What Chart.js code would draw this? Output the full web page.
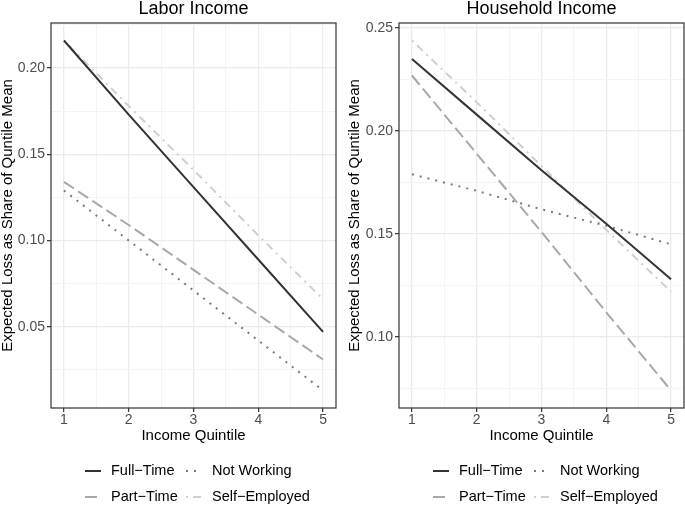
<!DOCTYPE html>
<html>
<head>
<meta charset="utf-8">
<script src="https://cdn.jsdelivr.net/npm/chart.js@4.4.1/dist/chart.umd.min.js"></script>
<style>
  body { margin: 0; background: #fff; }
  #wrap { position: relative; width: 685px; height: 505px; }
  canvas { position: absolute; top: 0; }
</style>
</head>
<body>
<div id="wrap">
  <canvas id="labor" width="342" height="505" style="left:0"></canvas>
  <canvas id="household" width="343" height="505" style="left:342px"></canvas>
</div>
<script>
// Data
const quintiles = [1, 2, 3, 4, 5]
const seriesNames = ['Full\u2212Time', 'Part\u2212Time', 'Not Working', 'Self\u2212Employed']

const laborFullTime     = [0.216, 0.173, 0.131, 0.089, 0.047]
const laborPartTime     = [0.134, 0.109, 0.083, 0.057, 0.031]
const laborNotWorking   = [0.129, 0.100, 0.071, 0.042, 0.013]
const laborSelfEmployed = [0.216, 0.178, 0.141, 0.103, 0.066]

const householdFullTime     = [0.235, 0.208, 0.181, 0.155, 0.128]
const householdPartTime     = [0.227, 0.189, 0.151, 0.112, 0.074]
const householdNotWorking   = [0.179, 0.171, 0.162, 0.154, 0.145]
const householdSelfEmployed = [0.244, 0.214, 0.183, 0.152, 0.122]

const laborYTicks = [0.05, 0.10, 0.15, 0.20]
const householdYTicks = [0.10, 0.15, 0.20, 0.25]

// Styles
const lineColors = ['#333333', '#a8a8a8', '#7a7a7a', '#cfcfcf']
const lineDashes = [[], [12, 5], [2, 6], [2, 5, 8, 5]]
const FONT = "'Liberation Sans', Arial, sans-serif"

// ggplot-like 5% expansion of the data range
function expand(lo, hi) {
  const pad = (hi - lo) * 0.05
  return [lo - pad, hi + pad]
}

// major ticks plus minor ones halfway between (and just outside if still in range)
function withMinor(majors, lo, hi) {
  const step = majors[1] - majors[0]
  const out = [majors[0] - step / 2]
  majors.forEach((m, i) => {
    out.push(m)
    out.push(m + step / 2)
  })
  return out.filter(v => v >= lo && v <= hi)
}

function isMajor(v, majors) {
  return majors.some(m => Math.abs(m - v) < 1e-9)
}

const panelPlugin = {
  id: 'panelDecor',
  afterDraw(chart) {
    const { ctx, chartArea } = chart
    const opts = chart.options.plugins.panelDecor
    ctx.save()
    // panel border
    ctx.strokeStyle = '#333333'
    ctx.lineWidth = 1.2
    ctx.strokeRect(chartArea.left, chartArea.top, chartArea.right - chartArea.left, chartArea.bottom - chartArea.top)
    // title
    ctx.fillStyle = '#000'
    ctx.font = '18px ' + FONT
    ctx.textAlign = 'center'
    ctx.textBaseline = 'alphabetic'
    ctx.fillText(opts.title, (chartArea.left + chartArea.right) / 2, 14)
    // legend, filled by column
    ctx.font = '14.5px ' + FONT
    ctx.textAlign = 'left'
    ctx.textBaseline = 'middle'
    const cols = [chartArea.left + 34, chartArea.left + 135]
    const rows = [471, 497]
    chart.data.datasets.forEach((ds, i) => {
      const x = cols[Math.floor(i / 2)]
      const y = rows[i % 2]
      ctx.strokeStyle = ds.borderColor
      ctx.lineWidth = ds.borderWidth
      ctx.setLineDash(ds.borderDash)
      ctx.beginPath()
      ctx.moveTo(x, y)
      ctx.lineTo(x + 16, y)
      ctx.stroke()
      ctx.setLineDash([])
      ctx.fillStyle = '#000'
      ctx.fillText(ds.label, x + 26, y)
    })
    ctx.restore()
  }
}

function makePanel(canvasId, title, series, yMajors, areaLeft, yTitlePad) {
  const canvas = document.getElementById(canvasId)
  const all = series.flat()
  const [yMin, yMax] = expand(Math.min(...all), Math.max(...all))
  const [xMin, xMax] = expand(quintiles[0], quintiles[quintiles.length - 1])
  const areaRight = 336
  const areaTop = 23
  const areaBottom = 408

  const datasets = series.map((vals, i) => ({
    label: seriesNames[i],
    data: vals.map((v, j) => ({ x: quintiles[j], y: v })),
    borderColor: lineColors[i],
    borderWidth: 2,
    borderDash: lineDashes[i],
    pointRadius: 0,
    fill: false,
    tension: 0
  }))

  new Chart(canvas.getContext('2d'), {
    type: 'line',
    data: { datasets: datasets },
    options: {
      responsive: false,
      animation: false,
      events: [],
      layout: { padding: { top: areaTop, right: canvas.width - (areaRight + (areaLeft - 51)), left: 0, bottom: 0 } },
      plugins: {
        legend: { display: false },
        tooltip: { enabled: false },
        panelDecor: { title: title }
      },
      scales: {
        x: {
          type: 'linear',
          min: xMin,
          max: xMax,
          afterBuildTicks: scale => {
            scale.ticks = withMinor(quintiles, xMin, xMax).map(v => ({ value: v }))
          },
          afterFit: scale => { scale.height = 505 - areaBottom },
          border: { display: false },
          grid: {
            color: c => isMajor(c.tick.value, quintiles) ? '#ebebeb' : '#f4f4f4',
            lineWidth: c => isMajor(c.tick.value, quintiles) ? 1.3 : 1,
            tickColor: c => isMajor(c.tick.value, quintiles) ? '#333333' : 'rgba(0,0,0,0)',
            tickLength: 4,
            tickWidth: 1.2
          },
          ticks: {
            autoSkip: false,
            maxRotation: 0,
            padding: 0,
            color: '#4d4d4d',
            font: { family: FONT, size: 14 },
            callback: v => isMajor(v, quintiles) ? String(v) : ''
          },
          title: {
            display: true,
            text: 'Income Quintile',
            color: '#000',
            font: { family: FONT, size: 15, lineHeight: 1 },
            padding: { top: 0, bottom: 61.5 }
          }
        },
        y: {
          type: 'linear',
          min: yMin,
          max: yMax,
          afterBuildTicks: scale => {
            scale.ticks = withMinor(yMajors, yMin, yMax).map(v => ({ value: v }))
          },
          afterFit: scale => { scale.width = areaLeft },
          border: { display: false },
          grid: {
            color: c => isMajor(c.tick.value, yMajors) ? '#ebebeb' : '#f4f4f4',
            lineWidth: c => isMajor(c.tick.value, yMajors) ? 1.3 : 1,
            tickColor: c => isMajor(c.tick.value, yMajors) ? '#333333' : 'rgba(0,0,0,0)',
            tickLength: 4,
            tickWidth: 1.2
          },
          ticks: {
            autoSkip: false,
            padding: 2,
            color: '#4d4d4d',
            font: { family: FONT, size: 14 },
            callback: v => isMajor(v, yMajors) ? v.toFixed(2) : ''
          },
          title: {
            display: true,
            text: 'Expected Loss as Share of Quntile Mean',
            color: '#000',
            font: { family: FONT, size: 15, lineHeight: 1 },
            padding: { top: yTitlePad, bottom: 0 }
          }
        }
      }
    },
    plugins: [panelPlugin]
  })
}

makePanel('labor', 'Labor Income',
  [laborFullTime, laborPartTime, laborNotWorking, laborSelfEmployed],
  laborYTicks, 51, 0)

makePanel('household', 'Household Income',
  [householdFullTime, householdPartTime, householdNotWorking, householdSelfEmployed],
  householdYTicks, 57, 5.5)
</script>
</body>
</html>
